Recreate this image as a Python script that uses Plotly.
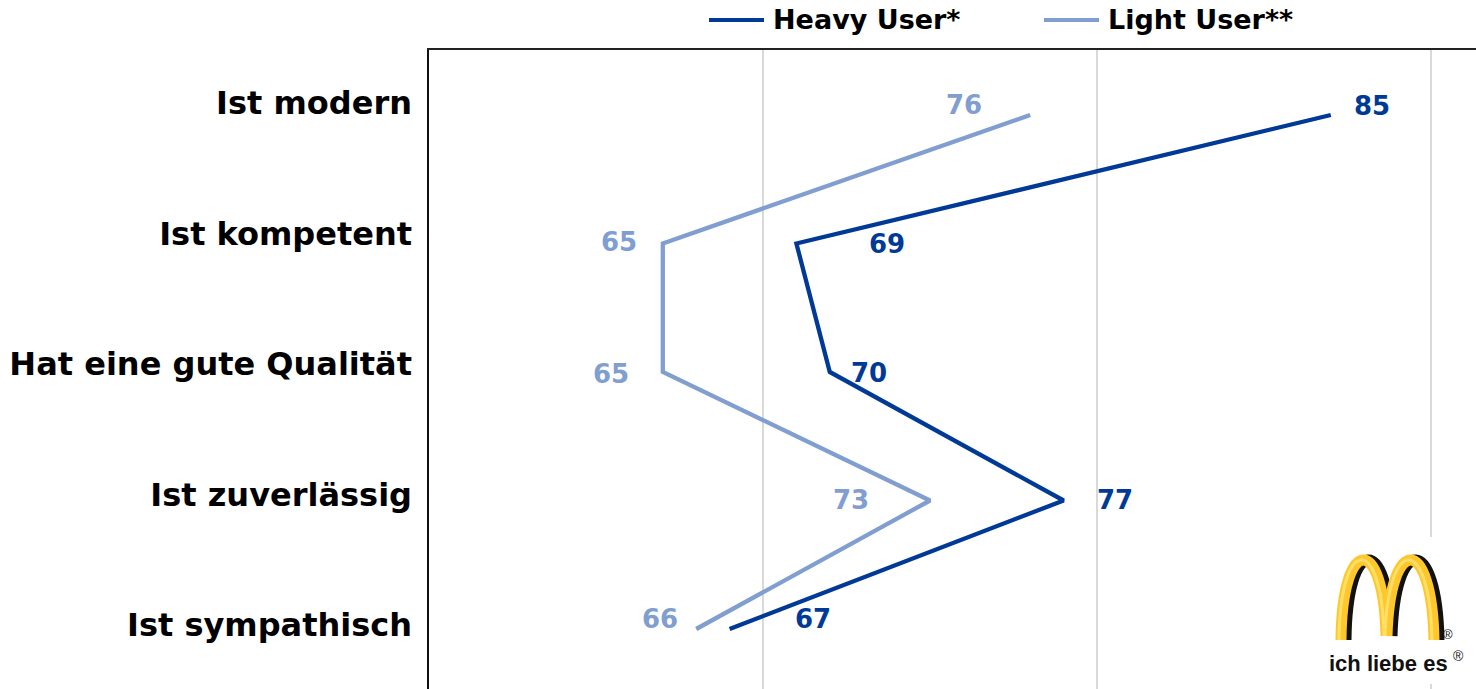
import plotly.graph_objects as go

# Survey items (top to bottom) and agreement scores per user group
categories = ["Ist modern", "Ist kompetent", "Hat eine gute Qualität",
              "Ist zuverlässig", "Ist sympathisch"]
heavy_user = [85, 69, 70, 77, 67]
light_user = [76, 65, 65, 73, 66]
series_names = ["Heavy User*", "Light User**"]

HEAVY_COLOR = "#003A96"
LIGHT_COLOR = "#809ED0"
FONT = "DejaVu Sans"

W, H = 1476, 689
M_L, M_T = 429, 50
plot_w, plot_h = W - M_L, H - M_T

# pixel offsets for the value labels (dx right, dy down)
heavy_label_offsets = [(41, -9), (91, 0), (39, 1), (51, -1), (83, -10)]
light_label_offsets = [(-66, -10), (-44, -2), (-52, 2), (-79, -1), (-36, -10)]

idx = list(range(len(categories)))

fig = go.Figure()
fig.add_trace(go.Scatter(x=heavy_user, y=idx, mode="lines", name=series_names[0],
                         line=dict(color=HEAVY_COLOR, width=4.3),
                         showlegend=False))
fig.add_trace(go.Scatter(x=light_user, y=idx, mode="lines", name=series_names[1],
                         line=dict(color=LIGHT_COLOR, width=4.3),
                         showlegend=False))
# carrier trace for the category label axis (labels sit on a slightly
# wider spacing than the line vertices)
fig.add_trace(go.Scatter(x=heavy_user, y=idx, yaxis="y2", mode="markers",
                         marker=dict(opacity=0), hoverinfo="skip",
                         showlegend=False))

annotations = []
for vals, offs, col in ((heavy_user, heavy_label_offsets, HEAVY_COLOR),
                        (light_user, light_label_offsets, LIGHT_COLOR)):
    for i, (v, (dx, dy)) in enumerate(zip(vals, offs)):
        annotations.append(dict(x=v, y=i, xref="x", yref="y", text=str(v),
                                showarrow=False, xshift=dx, yshift=-dy,
                                font=dict(family=FONT, size=26, color=col,
                                          weight="bold")))


def px(x, y):
    """Pixel position -> paper coordinates."""
    return (x - M_L) / plot_w, (H - y) / plot_h


def path(points):
    out = []
    for cmd, pts in points:
        coords = " ".join("%.5f,%.5f" % px(*p) for p in pts)
        out.append(cmd + " " + coords)
    return " ".join(out)


shapes = []

# legend: line sample + label per series
legend_items = [(709, 771, HEAVY_COLOR, series_names[0]),
                (1044, 1106, LIGHT_COLOR, series_names[1])]
for lx0, tx, col, name in legend_items:
    a0, b0 = px(lx0, 20)
    a1, _ = px(lx0 + 55, 20)
    shapes.append(dict(type="line", xref="paper", yref="paper", x0=a0, x1=a1,
                       y0=b0, y1=b0, line=dict(color=col, width=4)))
    ta, tb = px(tx, 20)
    annotations.append(dict(x=ta, y=tb, xref="paper", yref="paper", text=name,
                            showarrow=False, xanchor="left", yanchor="middle",
                            font=dict(family=FONT, size=27, color="#000000",
                                      weight="bold")))

# white backing for the logo
x0, y0 = px(1318, 537)
x1, y1 = px(1476, 684)
shapes.append(dict(type="rect", xref="paper", yref="paper", x0=x0, x1=x1,
                   y0=y1, y1=y0, fillcolor="white", line=dict(width=0),
                   layer="above"))


def arches(dx, color, width):
    left = path([("M", [(1341 + dx, 640)]),
                 ("C", [(1342 + dx, 534), (1384 + dx, 534), (1386 + dx, 636)])])
    right = path([("M", [(1387 + dx, 636)]),
                  ("C", [(1390 + dx, 534), (1432 + dx, 534), (1434 + dx, 640)])])
    return [dict(type="path", xref="paper", yref="paper", path=p,
                 line=dict(color=color, width=width), layer="above")
            for p in (left, right)]


shapes += arches(5, "#111111", 11)
shapes += arches(0, "#FFC72C", 11)
shapes += arches(-2, "#FFE066", 3)

lx, ly = px(1388, 663)
annotations.append(dict(x=lx, y=ly, xref="paper", yref="paper",
                        text="ich liebe es", showarrow=False,
                        xanchor="center", yanchor="middle",
                        font=dict(family="Liberation Sans", size=22,
                                  color="#111111", weight="bold")))
rx, ry = px(1448, 634)
annotations.append(dict(x=rx, y=ry, xref="paper", yref="paper", text="®",
                        showarrow=False, xanchor="center", yanchor="middle",
                        font=dict(family="Liberation Sans", size=13,
                                  color="#111111")))
rx, ry = px(1458, 656)
annotations.append(dict(x=rx, y=ry, xref="paper", yref="paper", text="®",
                        showarrow=False, xanchor="center", yanchor="middle",
                        font=dict(family="Liberation Sans", size=14,
                                  color="#111111")))

fig.update_layout(
    width=W, height=H,
    margin=dict(l=M_L, r=0, t=M_T, b=0, pad=0),
    paper_bgcolor="white", plot_bgcolor="white",
    showlegend=False,
    annotations=annotations,
    shapes=shapes,
    yaxis2=dict(overlaying="y", side="left", range=[4 + 64 / 130.5, -53 / 130.5],
                tickvals=idx, ticktext=categories, showgrid=False,
                zeroline=False, ticks="", showline=False,
                tickfont=dict(family=FONT, size=32, color="#000000",
                              weight="bold"),
                ticklabelstandoff=16),
)

fig.update_xaxes(range=[58, 58 + plot_w / 33.4], tick0=58, dtick=10,
                 showgrid=True, gridcolor="#D9D9D9", gridwidth=2,
                 showticklabels=False, zeroline=False, ticks="",
                 showline=True, linecolor="#222222", linewidth=2,
                 side="top", mirror=False)
fig.layout.yaxis.update(range=[4 + 60 / 128.5, -65 / 128.5], showgrid=False,
                        zeroline=False, ticks="", showticklabels=False,
                        showline=True, linecolor="#111111", linewidth=2)

fig.write_html("out.html")
